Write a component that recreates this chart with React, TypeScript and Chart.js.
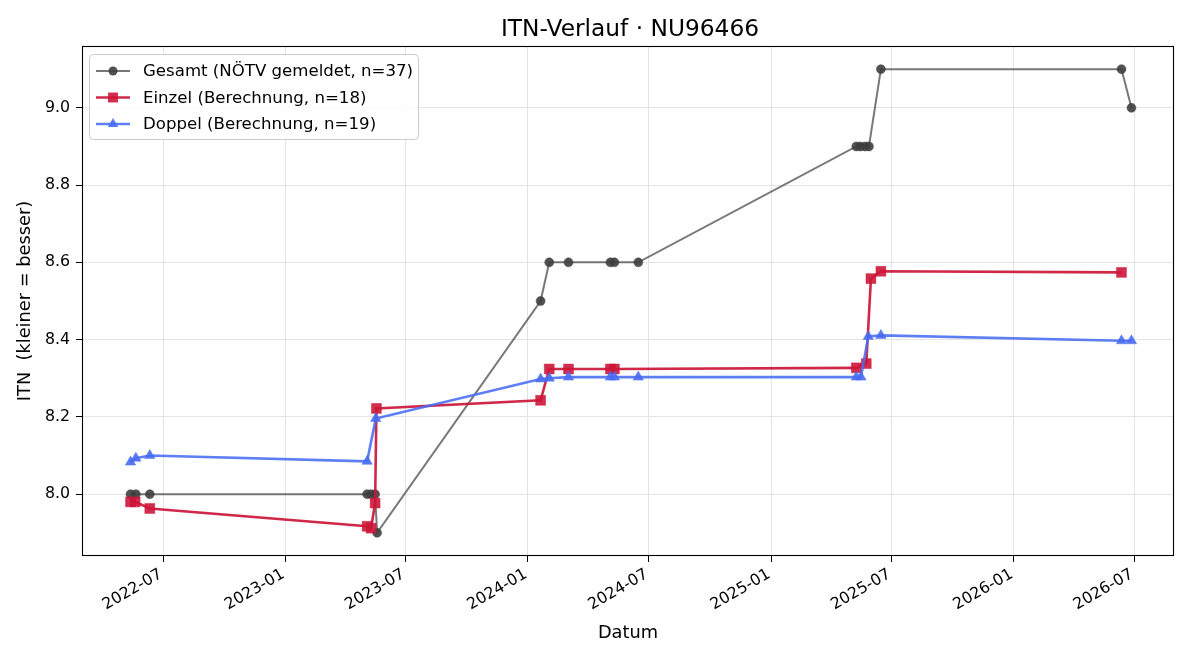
import React, { useEffect, useRef } from "react";
import { Chart, registerables } from "chart.js";

Chart.register(...registerables);

// ---------- data ----------
const titleText = "ITN-Verlauf · NU96466";
const xAxisTitle = "Datum";
const yAxisTitle = "ITN  (kleiner = besser)";

const seriesLabels = [
  "Gesamt (NÖTV gemeldet, n=37)",
  "Einzel (Berechnung, n=18)",
  "Doppel (Berechnung, n=19)",
];

const gesamtDates = [
  "2022-05-13", "2022-05-21", "2022-06-11", "2023-05-04", "2023-05-10", "2023-05-16", "2023-05-19",
  "2024-01-20", "2024-02-02", "2024-03-02", "2024-05-04", "2024-05-10", "2024-06-15",
  "2025-05-09", "2025-05-15", "2025-05-22", "2025-05-28", "2025-06-15", "2026-06-12", "2026-06-27",
];
const gesamtValues = [
  8.0, 8.0, 8.0, 8.0, 8.0, 8.0, 7.9,
  8.5, 8.6, 8.6, 8.6, 8.6, 8.6,
  8.9, 8.9, 8.9, 8.9, 9.1, 9.1, 9.0,
];

const einzelDates = [
  "2022-05-13", "2022-05-20", "2022-06-11", "2023-05-04", "2023-05-10", "2023-05-16", "2023-05-18",
  "2024-01-20", "2024-02-02", "2024-03-02", "2024-05-04", "2024-05-10",
  "2025-05-09", "2025-05-24", "2025-05-31", "2025-06-15", "2026-06-12",
];
const einzelValues = [
  7.98, 7.98, 7.963, 7.917, 7.912, 7.977, 8.222,
  8.243, 8.324, 8.324, 8.324, 8.324,
  8.327, 8.338, 8.558, 8.577, 8.574,
];

const doppelDates = [
  "2022-05-13", "2022-05-21", "2022-06-11", "2023-05-04", "2023-05-17",
  "2024-01-20", "2024-02-02", "2024-03-02", "2024-05-04", "2024-05-10", "2024-06-15",
  "2025-05-09", "2025-05-16", "2025-05-27", "2025-06-15", "2026-06-12", "2026-06-27",
];
const doppelValues = [
  8.083, 8.093, 8.1, 8.085, 8.196,
  8.298, 8.3, 8.303, 8.303, 8.303, 8.303,
  8.303, 8.303, 8.408, 8.411, 8.397, 8.397,
];

const xTickLabels = ["2022-07", "2023-01", "2023-07", "2024-01", "2024-07", "2025-01", "2025-07", "2026-01", "2026-07"];
const yTickValues = [8.0, 8.2, 8.4, 8.6, 8.8, 9.0];
const xRange = ["2022-03-01", "2026-08-30"];
const yRange = [7.84, 9.16];

// ---------- helpers ----------
const toMs = (s: string) => {
  const p = s.split("-").map(Number);
  return Date.UTC(p[0], p[1] - 1, p[2] || 1);
};
const fmtMonth = (ms: number) => {
  const d = new Date(ms);
  const m = d.getUTCMonth() + 1;
  return d.getUTCFullYear() + "-" + (m < 10 ? "0" + m : "" + m);
};
const pts = (dates: string[], vals: number[]) => dates.map((d, i) => ({ x: toMs(d), y: vals[i] }));

const FONT = "'DejaVu Sans', 'Liberation Sans', sans-serif";
const TICK_SIZE = 15.8;

const styles = [
  { line: "rgba(68,68,68,0.72)", pt: "rgba(62,62,62,0.9)", width: 2, shape: "circle", r: 4.5 },
  { line: "rgba(204,22,56,0.92)", pt: "rgba(204,22,56,0.9)", width: 2.6, shape: "rect", r: 7 },
  { line: "rgba(72,108,242,0.88)", pt: "rgba(72,108,242,0.9)", width: 2.6, shape: "triangle", r: 6 },
];

const decorPlugin = {
  id: "decor",
  afterDraw(chart: any) {
    const ctx = chart.ctx;
    const a = chart.chartArea;
    ctx.save();
    // frame (all four spines)
    ctx.strokeStyle = "#000";
    ctx.lineWidth = 1.1;
    ctx.strokeRect(Math.round(a.left) + 0.5, Math.round(a.top) + 0.5, Math.round(a.right - a.left) - 1, Math.round(a.bottom - a.top) - 1);

    // title
    ctx.fillStyle = "#000";
    ctx.font = "23.3px " + FONT;
    ctx.textAlign = "center";
    ctx.textBaseline = "alphabetic";
    ctx.fillText(titleText, (a.left + a.right) / 2 + 2, 36);

    // legend box
    const bx = 89.5, by = 54.5, bw = 329, bh = 85, rad = 4;
    ctx.beginPath();
    ctx.moveTo(bx + rad, by);
    ctx.lineTo(bx + bw - rad, by);
    ctx.quadraticCurveTo(bx + bw, by, bx + bw, by + rad);
    ctx.lineTo(bx + bw, by + bh - rad);
    ctx.quadraticCurveTo(bx + bw, by + bh, bx + bw - rad, by + bh);
    ctx.lineTo(bx + rad, by + bh);
    ctx.quadraticCurveTo(bx, by + bh, bx, by + bh - rad);
    ctx.lineTo(bx, by + rad);
    ctx.quadraticCurveTo(bx, by, bx + rad, by);
    ctx.closePath();
    ctx.fillStyle = "rgba(255,255,255,0.85)";
    ctx.fill();
    ctx.strokeStyle = "#cccccc";
    ctx.lineWidth = 1;
    ctx.stroke();

    const rowY = [71, 97.5, 124];
    ctx.font = "16.6px " + FONT;
    ctx.textAlign = "left";
    ctx.textBaseline = "middle";
    seriesLabels.forEach((label, i) => {
      const s = styles[i];
      const y = rowY[i];
      ctx.strokeStyle = s.line;
      ctx.lineWidth = s.width;
      ctx.beginPath();
      ctx.moveTo(96, y);
      ctx.lineTo(130, y);
      ctx.stroke();
      ctx.fillStyle = s.pt;
      ctx.beginPath();
      if (s.shape === "circle") {
        ctx.arc(113, y, s.r, 0, Math.PI * 2);
      } else if (s.shape === "rect") {
        const h = s.r * Math.SQRT1_2;
        ctx.rect(113 - h, y - h, 2 * h, 2 * h);
      } else {
        const r = s.r;
        ctx.moveTo(113, y - r);
        ctx.lineTo(113 + r * Math.sin((2 * Math.PI) / 3), y - r * Math.cos((2 * Math.PI) / 3));
        ctx.lineTo(113 + r * Math.sin((4 * Math.PI) / 3), y - r * Math.cos((4 * Math.PI) / 3));
        ctx.closePath();
      }
      ctx.fill();
      ctx.fillStyle = "#000";
      ctx.fillText(label, 143, y + 1);
    });
    ctx.restore();
  },
};

export default function App() {
  const ref = useRef<HTMLCanvasElement | null>(null);

  useEffect(() => {
    document.body.style.margin = "0";
    const canvas = ref.current;
    if (!canvas) return;

    const allData = [
      pts(gesamtDates, gesamtValues),
      pts(einzelDates, einzelValues),
      pts(doppelDates, doppelValues),
    ];

    const chart = new Chart(canvas, {
      type: "line",
      data: {
        datasets: allData.map((d, i) => ({
          label: seriesLabels[i],
          data: d,
          borderColor: styles[i].line,
          borderWidth: styles[i].width,
          backgroundColor: styles[i].pt,
          pointBackgroundColor: styles[i].pt,
          pointBorderColor: styles[i].pt,
          pointBorderWidth: 0.5,
          pointStyle: styles[i].shape as any,
          pointRadius: styles[i].r,
          pointHoverRadius: styles[i].r,
          tension: 0,
          fill: false,
          order: 3 - i,
        })),
      },
      options: {
        animation: false,
        responsive: false,
        maintainAspectRatio: false,
        parsing: false as any,
        layout: { padding: { left: 0, right: 26, top: 46, bottom: 0 } },
        plugins: {
          legend: { display: false },
          title: { display: false },
          tooltip: { enabled: false },
        },
        scales: {
          x: {
            type: "linear",
            min: toMs(xRange[0]),
            max: toMs(xRange[1]),
            afterBuildTicks: (scale: any) => {
              scale.ticks = xTickLabels.map((l) => ({ value: toMs(l + "-01") }));
            },
            afterFit: (scale: any) => {
              scale.height = 104;
            },
            border: { display: false },
            grid: {
              color: "#e4e4e4",
              lineWidth: 1,
              tickColor: "#000",
              tickLength: 6,
              tickWidth: 1,
            },
            ticks: {
              autoSkip: false,
              minRotation: 30,
              maxRotation: 30,
              padding: 3,
              labelOffset: -2,
              color: "#000",
              font: { family: FONT, size: TICK_SIZE },
              callback: (v: any) => fmtMonth(Number(v)),
            },
            title: {
              display: true,
              text: xAxisTitle,
              color: "#000",
              font: { family: FONT, size: 17.8 },
              padding: { top: 0, bottom: 16 },
            },
          },
          y: {
            type: "linear",
            min: yRange[0],
            max: yRange[1],
            afterBuildTicks: (scale: any) => {
              scale.ticks = yTickValues.map((v) => ({ value: v }));
            },
            afterFit: (scale: any) => {
              scale.width = 82;
            },
            border: { display: false },
            grid: {
              color: "#e4e4e4",
              lineWidth: 1,
              tickColor: "#000",
              tickLength: 6,
              tickWidth: 1,
            },
            ticks: {
              padding: 6,
              color: "#000",
              font: { family: FONT, size: TICK_SIZE },
              callback: (v: any) => Number(v).toFixed(1),
            },
            title: {
              display: true,
              text: yAxisTitle,
              color: "#000",
              font: { family: FONT, size: 17.8 },
              padding: { top: 15, bottom: 0 },
            },
          },
        },
      },
      plugins: [decorPlugin],
    } as any);

    return () => chart.destroy();
  }, []);

  return (
    <div style={{ width: 1200, height: 660, background: "#fff" }}>
      <canvas ref={ref} width={1200} height={660} style={{ display: "block" }} />
    </div>
  );
}
